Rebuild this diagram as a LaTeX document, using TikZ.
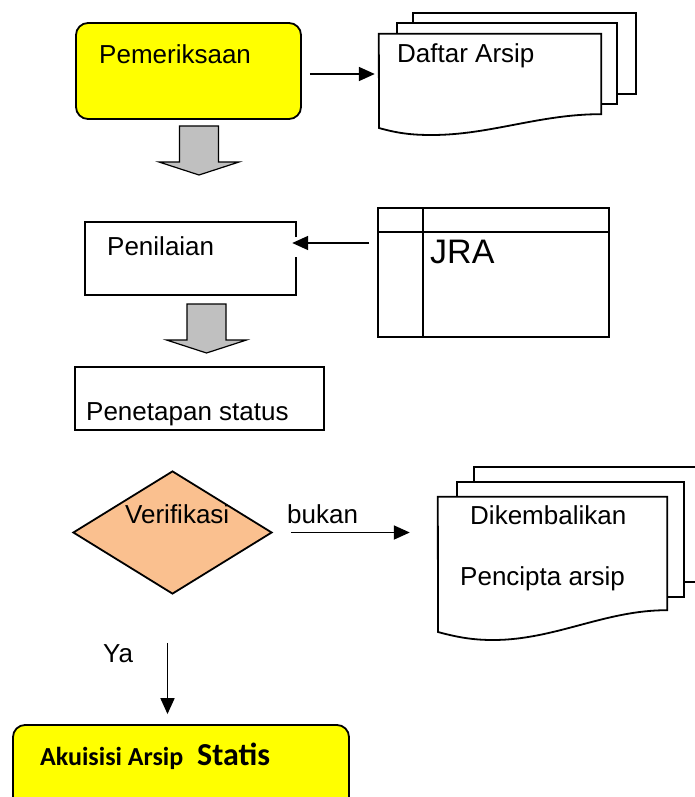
\documentclass[tikz,border=0pt]{standalone}
\usepackage{fontspec}
\setmainfont{Liberation Sans}
\newfontfamily\calibri{Carlito}
\usetikzlibrary{shapes, shapes.geometric}
\usetikzlibrary{arrows, arrows.meta}
\usetikzlibrary{calc}

\definecolor{kuning}{RGB}{255,255,0}
\definecolor{oranye}{RGB}{250,192,143}
\definecolor{abu}{RGB}{192,192,192}

\tikzset{
  teks/.style={inner sep=0pt, anchor=base west, font=\fontsize{26}{30}\selectfont},
  garis/.style={line width=1.8pt},
  kotak/.style={draw, rectangle, line width=1.8pt, inner sep=0pt},
  lembar/.style={rectangle, inner sep=0pt},
  panahblok/.pic={\draw[line width=1.2pt, fill=abu] (-19.5,0) -- (19.5,0) -- (19.5,36) -- (40,36)
        -- (0,49) -- (-40,36) -- (-19.5,36) -- cycle;}
}

\begin{document}
\begin{tikzpicture}[x=1pt, y=-1pt, >={Triangle[length=16pt,width=14pt]}]
        \useasboundingbox (0,0) rectangle (694,797);

        % pemeriksaan
        \node[kotak, fill=kuning, rounded corners=12pt, minimum width=225pt, minimum height=96pt] (pem)
        at (188.5,71) {};
        \node[teks] (pemtxt) at (99,64) {Pemeriksaan};

        % daftar arsip
        \draw[garis, fill=white] (413,13) rectangle (636,94);
        \draw[garis, fill=white] (397,23) rectangle (617,104);
        \node[lembar, minimum width=222pt, minimum height=80pt] (daf) at (490,74) {};
        \draw[garis, fill=white] (daf.south east) -- (daf.north east) -- (daf.north west) -- (379,128)
        .. controls (400,134) and (415,135) .. (432,135)
        .. controls (490,135) and (540,114) .. (daf.south east) -- cycle;
        \node[teks] (daftxt) at (397,63) {Daftar Arsip};
        \draw[garis, ->] ($(pem.east |- daf.west)+(8,0)$) -- ($(daf.west)+(-4,0)$);

        \pic at (199,126) {panahblok};

        % penilaian
        \node[lembar, minimum width=211pt, minimum height=73pt] (nil) at (190.5,258.5) {};
        \draw[garis] ([yshift=21.5pt]nil.east) -- (nil.north east) -- (nil.north west)
        -- (nil.south west) -- (nil.south east) -- ([yshift=1.5pt]nil.east);
        \node[teks] (niltxt) at (107,255) {Penilaian};

        % JRA
        \node[kotak, minimum width=231pt, minimum height=129pt] (jra) at (493.5,272.5) {};
        \draw[garis] ([yshift=-25pt]jra.north west) -- ([yshift=-25pt]jra.north east);
        \draw[garis] ([xshift=46pt]jra.north west) -- ([xshift=46pt]jra.south west);
        \node[teks, font=\fontsize{34}{38}\selectfont] (jratxt) at (430,263) {JRA};
        \coordinate (pin) at ([xshift=-4pt, yshift=15.5pt]nil.east);
        \draw[garis, ->] ($(pin -| jra.west)+(-8,0)$) -- (pin);

        \pic at (206.5,304) {panahblok};

        % penetapan status
        \node[kotak, minimum width=249pt, minimum height=63pt] (tetap) at (199.5,398.5) {};
        \node[teks] (tetaptxt) at (86,420) {Penetapan status};

        % verifikasi
        \node[draw, diamond, garis, fill=oranye, inner sep=0pt, minimum width=199pt,
        minimum height=123pt] (verif) at (172.5,532.5) {};
        \node[teks] (veriftxt) at (125,523) {Verifikasi};
        \node[teks] (bukan) at (287,523) {bukan};

        % dikembalikan
        \draw[garis, fill=white] (474,467) rectangle (703,582);
        \draw[garis, fill=white] (457,482) rectangle (684,597);
        \node[lembar, minimum width=229pt, minimum height=113pt] (kem) at (552.5,553.5) {};
        \draw[garis, fill=white] (kem.south east) -- (kem.north east) -- (kem.north west) -- (438,632)
        .. controls (460,638) and (475,640) .. (493,640)
        .. controls (555,640) and (605,610) .. (kem.south east) -- cycle;
        \node[teks] (kemtxt) at (470,524) {Dikembalikan};
        \node[teks] (pencipta) at (460,585) {Pencipta arsip};
        \draw[garis, ->] ($(verif.east)+(18,0)$) -- ($(verif.east -| kem.west)+(-28,0)$);

        % akuisisi
        \node[kotak, fill=kuning, rounded corners=12pt, minimum width=336pt, minimum height=110pt] (aku)
        at (181,780) {};
        \node[teks, font=\calibri\bfseries\fontsize{26}{30}\selectfont] (akutxt) at (40,765)
        {Akuisisi Arsip\hspace{14pt}{\fontsize{32}{36}\selectfont Statis}};
        \draw[garis, ->] ($(verif.south)+(-5,48)$) -- ($(verif.south |- aku.north)+(-5,-10)$);
        \node[teks] (ya) at (103,662) {Ya};
    \end{tikzpicture}
\end{document}
